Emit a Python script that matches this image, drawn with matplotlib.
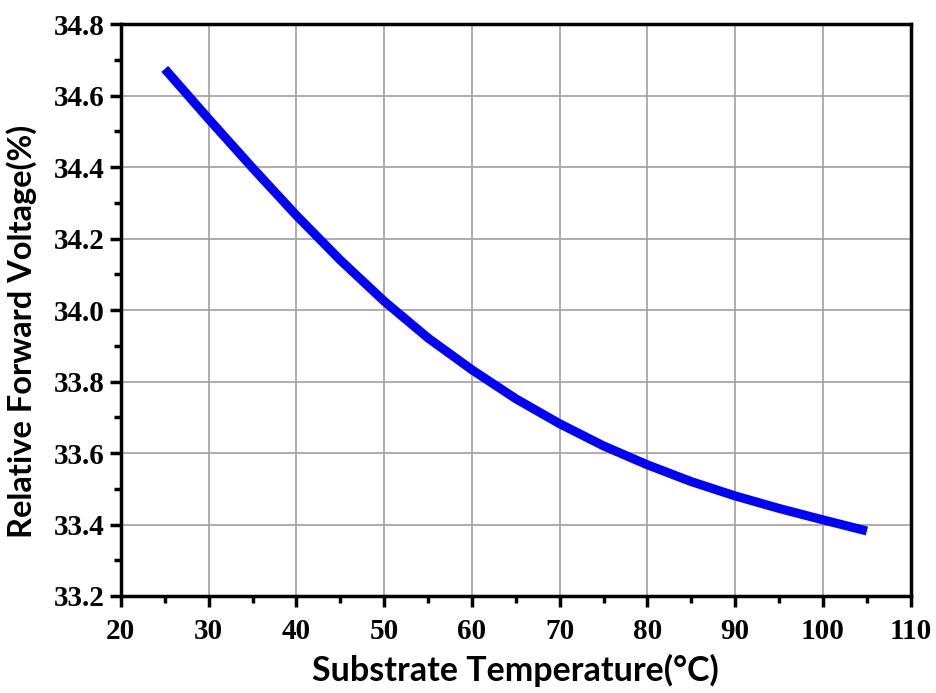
import matplotlib
matplotlib.use("Agg")
import matplotlib.pyplot as plt
from matplotlib.ticker import MultipleLocator

# substrate temperature (C) and relative forward voltage (%)
temp = [25, 30, 35, 40, 45, 50, 55, 60, 65, 70, 75, 80, 85, 90, 95, 100, 105]
volt = [34.675, 34.535, 34.398, 34.265, 34.14, 34.025, 33.922, 33.833, 33.752,
        33.682, 33.62, 33.567, 33.52, 33.48, 33.445, 33.413, 33.382]

plt.rcParams["font.family"] = "Liberation Serif"
plt.rcParams["font.weight"] = "bold"

fig = plt.figure(figsize=(9.37, 6.93), dpi=100)
ax = fig.add_axes([0.129, 0.140, 0.843, 0.825])

ax.plot(temp, volt, color="#0000ff", lw=6.5, solid_capstyle="butt", solid_joinstyle="round", zorder=3)

ax.set_xlim(20, 110)
ax.set_ylim(33.2, 34.8)
ax.xaxis.set_major_locator(MultipleLocator(10))
ax.xaxis.set_minor_locator(MultipleLocator(5))
ax.yaxis.set_major_locator(MultipleLocator(0.2))
ax.yaxis.set_minor_locator(MultipleLocator(0.1))

ax.grid(True, which="major", color="#a0a0a0", lw=1.2)
for sp in ax.spines.values():
    sp.set_linewidth(2.5)

ax.tick_params(which="major", direction="out", length=8, width=2.5, top=False, right=False, labelsize=21)
ax.tick_params(which="minor", direction="out", length=5, width=2.5, top=False, right=False)
ax.tick_params(axis="x", pad=8)
ax.tick_params(axis="y", pad=4)

ax.set_xlabel("Substrate Temperature(°C)", fontfamily="Lato", fontweight="bold", fontsize=24.5, labelpad=6)
ax.set_ylabel("Relative Forward Voltage(%)", fontfamily="Lato", fontweight="bold", fontsize=23.5)
ax.yaxis.set_label_coords(-0.106, 0.462)

fig.savefig("out.png", dpi=100)
